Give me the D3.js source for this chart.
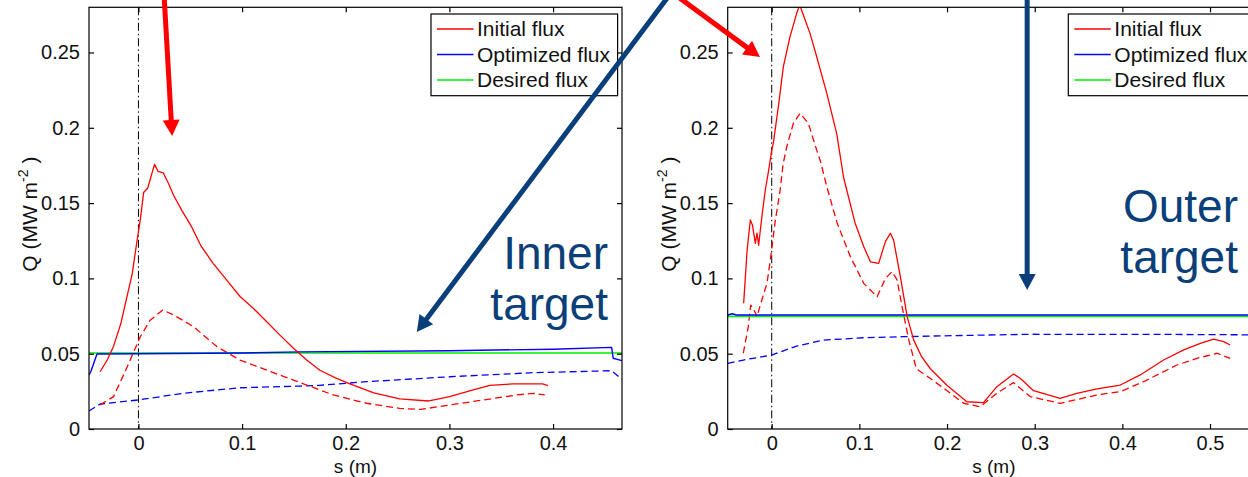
<!DOCTYPE html>
<html><head><meta charset="utf-8">
<script src="https://cdn.jsdelivr.net/npm/d3@7"></script>
<style>body{margin:0;background:#fff}svg{display:block}</style>
</head><body>
<script>
// ---------- data ----------
const yTicks = [0, 0.05, 0.1, 0.15, 0.2, 0.25];
const yTickLabels = ["0", "0.05", "0.1", "0.15", "0.2", "0.25"];
const leftXTicks = [0, 0.1, 0.2, 0.3, 0.4];
const rightXTicks = [0, 0.1, 0.2, 0.3, 0.4, 0.5];
const legendLabels = ["Initial flux", "Optimized flux", "Desired flux"];

const leftInitial = [[-0.037,0.038],[-0.030,0.046],[-0.024,0.055],[-0.017,0.070],[-0.011,0.088],[-0.006,0.103],[-0.002,0.122],[0.002,0.140],[0.005,0.157],[0.009,0.160],[0.0155,0.1757],[0.019,0.171],[0.024,0.170],[0.029,0.163],[0.034,0.155],[0.042,0.145],[0.0515,0.134],[0.060,0.122],[0.072,0.110],[0.085,0.099],[0.098,0.088],[0.111,0.080],[0.124,0.071],[0.137,0.062],[0.149,0.054],[0.162,0.046],[0.175,0.039],[0.190,0.034],[0.204,0.030],[0.227,0.024],[0.252,0.020],[0.280,0.0186],[0.290,0.020],[0.300,0.0215],[0.323,0.026],[0.339,0.029],[0.362,0.030],[0.381,0.030],[0.390,0.030],[0.395,0.0288]];
const leftInitialDashed = [[-0.037,0.016],[-0.024,0.0215],[-0.011,0.041],[0.0016,0.061],[0.011,0.072],[0.0235,0.079],[0.034,0.0757],[0.053,0.068],[0.0756,0.0547],[0.098,0.0458],[0.124,0.039],[0.1495,0.0325],[0.175,0.0259],[0.188,0.0226],[0.220,0.0171],[0.252,0.0137],[0.272,0.013],[0.3006,0.016],[0.333,0.0193],[0.365,0.0226],[0.381,0.0237],[0.392,0.0226]];
const leftOptimized = [[-0.0477,0.036],[-0.046,0.038],[-0.040,0.0498],[0.0,0.0500],[0.1,0.0505],[0.156,0.0512],[0.3,0.052],[0.4,0.053],[0.4565,0.0542],[0.458,0.047],[0.4665,0.0454]];
const leftOptimizedDashed = [[-0.0477,0.0120],[-0.037,0.0166],[0,0.0193],[0.043,0.0237],[0.098,0.0274],[0.156,0.0285],[0.175,0.029],[0.22,0.0314],[0.3006,0.0347],[0.381,0.0374],[0.4565,0.0387],[0.4665,0.033]];
const leftDesired = [[-0.0477,0.0505],[0.4665,0.0505]];

const rightInitial = [[-0.032,0.0835],[-0.028,0.119],[-0.0244,0.1388],[-0.022,0.1355],[-0.0187,0.1233],[-0.0168,0.130],[-0.0149,0.122],[-0.013,0.132],[-0.011,0.142],[-0.0073,0.1587],[-0.0034,0.172],[0,0.185],[0.0018,0.1897],[0.0076,0.214],[0.0133,0.2406],[0.0209,0.2605],[0.0285,0.276],[0.032,0.2815],[0.036,0.275],[0.0437,0.2627],[0.0514,0.247],[0.0628,0.223],[0.0742,0.196],[0.082,0.167],[0.095,0.137],[0.105,0.121],[0.1126,0.111],[0.122,0.110],[0.1297,0.1244],[0.1354,0.130],[0.139,0.1255],[0.1468,0.101],[0.1545,0.0746],[0.162,0.059],[0.171,0.048],[0.181,0.040],[0.1998,0.029],[0.2226,0.0181],[0.2416,0.0175],[0.2568,0.0281],[0.2758,0.0365],[0.2834,0.0337],[0.2987,0.0254],[0.329,0.0204],[0.348,0.0237],[0.371,0.0266],[0.3976,0.0292],[0.4204,0.0359],[0.447,0.0458],[0.47,0.0525],[0.489,0.0569],[0.504,0.0596],[0.5155,0.058],[0.523,0.0558]];
const rightInitialDashed = [[-0.0324,0.0503],[-0.0267,0.068],[-0.024,0.0823],[-0.020,0.079],[-0.0168,0.0746],[-0.013,0.0823],[-0.0054,0.0967],[-0.0016,0.112],[0.004,0.138],[0.0095,0.158],[0.013,0.176],[0.017,0.187],[0.0247,0.203],[0.0323,0.2096],[0.0418,0.203],[0.0514,0.185],[0.0555,0.178],[0.0628,0.161],[0.0745,0.137],[0.0897,0.1144],[0.105,0.0967],[0.1202,0.0878],[0.1297,0.100],[0.1373,0.1045],[0.143,0.099],[0.1487,0.0812],[0.1564,0.059],[0.165,0.040],[0.1807,0.0337],[0.1998,0.0255],[0.2188,0.0171],[0.2378,0.0148],[0.2568,0.0237],[0.2758,0.0308],[0.2949,0.0215],[0.329,0.017],[0.371,0.0226],[0.3976,0.0248],[0.4242,0.0314],[0.4623,0.0425],[0.485,0.0469],[0.508,0.0503],[0.523,0.0469]];
const rightOptimized = [[-0.0502,0.0757],[-0.045,0.0765],[-0.04,0.0757],[0.557,0.0757]];
const rightOptimizedDashed = [[-0.0502,0.0436],[-0.0324,0.0458],[0,0.0491],[0.0285,0.0551],[0.059,0.059],[0.1046,0.0606],[0.150,0.0613],[0.1807,0.0617],[0.2949,0.0629],[0.45,0.0628],[0.557,0.0625]];
const rightDesired = [[-0.0502,0.0748],[0.557,0.0748]];

// ---------- layout ----------
const W = 1248, H = 477;
const FONT = "'Liberation Sans', Arial, sans-serif";
const svg = d3.select("body").append("svg").attr("width", W).attr("height", H);
svg.append("rect").attr("width", W).attr("height", H).attr("fill", "#fff");

const panels = [
  { id: "L", left: 89, right: 622, top: 7.3, bottom: 429, xDomain: [-0.0477, 0.4665], xTicks: leftXTicks,
    series: { ini: leftInitial, iniD: leftInitialDashed, opt: leftOptimized, optD: leftOptimizedDashed, des: leftDesired },
    legendX: 431 },
  { id: "R", left: 727.7, right: 1260, top: 7.3, bottom: 429, xDomain: [-0.0502, 0.557], xTicks: rightXTicks,
    series: { ini: rightInitial, iniD: rightInitialDashed, opt: rightOptimized, optD: rightOptimizedDashed, des: rightDesired },
    legendX: 1068.3 }
];

const colors = { ini: "#ff0000", opt: "#0000ff", des: "#00ee00" };

panels.forEach(p => {
  const x = d3.scaleLinear().domain(p.xDomain).range([p.left, p.right]);
  const y = d3.scaleLinear().domain([0, 0.28]).range([p.bottom, p.top]);
  p.x = x; p.y = y;
  const g = svg.append("g");
  g.append("clipPath").attr("id", "clip" + p.id).append("rect")
    .attr("x", p.left).attr("y", p.top).attr("width", p.right - p.left).attr("height", p.bottom - p.top);
  const plot = g.append("g").attr("clip-path", `url(#clip${p.id})`);
  const line = d3.line().x(d => x(d[0])).y(d => y(d[1]));

  // dash-dot vertical line at s=0
  plot.append("line").attr("x1", x(0)).attr("x2", x(0)).attr("y1", p.top).attr("y2", p.bottom)
    .attr("stroke", "#000").attr("stroke-width", 1).attr("stroke-dasharray", "8,3,1.5,3");

  const draw = (data, col, dashed, w) => plot.append("path").datum(data).attr("d", line)
    .attr("fill", "none").attr("stroke", col).attr("stroke-width", w || 1.3)
    .attr("stroke-dasharray", dashed ? "7,4" : null).attr("stroke-linejoin", "round");
  draw(p.series.optD, colors.opt, true);
  draw(p.series.iniD, colors.ini, true);
  draw(p.series.des, colors.des, false, 1.6);
  draw(p.series.opt, colors.opt, false, 1.4);
  draw(p.series.ini, colors.ini, false);

  // axes (MATLAB style, ticks inward, box)
  const tk = 5;
  const ax = g.append("g").attr("font-family", FONT).attr("fill", "#111");
  ax.append("rect").attr("x", p.left).attr("y", p.top).attr("width", p.right - p.left).attr("height", p.bottom - p.top)
    .attr("fill", "none").attr("stroke", "#000").attr("stroke-width", 1.2);
  const xAxisB = d3.axisBottom(x).tickValues(p.xTicks).tickSize(-tk).tickPadding(7).tickFormat(d3.format("~g"));
  const gxb = ax.append("g").attr("transform", `translate(0,${p.bottom})`).call(xAxisB);
  const xAxisT = d3.axisTop(x).tickValues(p.xTicks).tickSize(-tk).tickFormat("");
  const gxt = ax.append("g").attr("transform", `translate(0,${p.top})`).call(xAxisT);
  const yAxisL = d3.axisLeft(y).tickValues(yTicks).tickSize(-tk).tickPadding(9).tickFormat((d, i) => yTickLabels[i]);
  const gyl = ax.append("g").attr("transform", `translate(${p.left},0)`).call(yAxisL);
  const yAxisR = d3.axisRight(y).tickValues(yTicks).tickSize(-tk).tickFormat("");
  const gyr = ax.append("g").attr("transform", `translate(${p.right},0)`).call(yAxisR);
  [gxb, gxt, gyl, gyr].forEach(a => {
    a.select(".domain").remove();
    a.selectAll(".tick line").attr("stroke", "#000").attr("stroke-width", 1.2);
    a.selectAll(".tick text").attr("font-size", 20).attr("font-family", FONT).attr("fill", "#111");
  });
  // axis labels
  ax.append("text").attr("x", (p.left + p.right) / 2).attr("y", 473)
    .attr("text-anchor", "middle").attr("font-size", 19).text("s (m)");
  const yl = ax.append("text").attr("transform", `translate(${p.left - 52},${(p.top + p.bottom) / 2 - 4}) rotate(-90)`)
    .attr("text-anchor", "middle").attr("font-size", 21);
  yl.append("tspan").text("Q (MW m");
  yl.append("tspan").attr("font-size", 14).attr("dy", -9).text("-2");
  yl.append("tspan").attr("dy", 9).text(" )");

  // legend
  const lg = svg.append("g").attr("font-family", FONT);
  lg.append("rect").attr("x", p.legendX).attr("y", 14).attr("width", 186.6).attr("height", 81.7)
    .attr("fill", "#fff").attr("stroke", "#000").attr("stroke-width", 1.2);
  ["ini", "opt", "des"].forEach((k, i) => {
    const yy = 29 + i * 25.5;
    lg.append("line").attr("x1", p.legendX + 6).attr("x2", p.legendX + 42.5).attr("y1", yy).attr("y2", yy)
      .attr("stroke", colors[k]).attr("stroke-width", 1.3);
    lg.append("text").attr("x", p.legendX + 46).attr("y", yy + 7).attr("font-size", 21).attr("fill", "#111")
      .text(legendLabels[i]);
  });
});

// ---------- annotations ----------
const navy = "#0a3f7a";
const L = panels[0], R = panels[1];
const arrows = [
  { p: L, from: [0.0248, 0.287], to: [0.0325, 0.1946], color: "#ff0000" },
  { p: R, from: [-0.107, 0.287], to: [-0.0134, 0.247], color: "#ff0000" },
  { p: L, from: [0.511, 0.287], to: [0.2685, 0.0644], color: navy },
  { p: R, from: [0.2914, 0.287], to: [0.2914, 0.0923], color: navy }
];
arrows.forEach(a => {
  const x1 = a.p.x(a.from[0]), y1 = a.p.y(a.from[1]), x2 = a.p.x(a.to[0]), y2 = a.p.y(a.to[1]);
  const ang = Math.atan2(y2 - y1, x2 - x1);
  const hl = 16, hw = 8.5;
  const bx = x2 - hl * Math.cos(ang), by = y2 - hl * Math.sin(ang);
  svg.append("line").attr("x1", x1).attr("y1", y1).attr("x2", bx + Math.cos(ang)).attr("y2", by + Math.sin(ang))
    .attr("stroke", a.color).attr("stroke-width", 5);
  const px = -Math.sin(ang), py = Math.cos(ang);
  svg.append("path").attr("d", `M${x2},${y2}L${bx + px * hw},${by + py * hw}L${bx - px * hw},${by - py * hw}Z`)
    .attr("fill", a.color);
});

const notes = [
  { lines: ["Inner", "target"], x: 608, y: 269 },
  { lines: ["Outer", "target"], x: 1238, y: 222 }
];
notes.forEach(n => {
  n.lines.forEach((t, i) => {
    svg.append("text").attr("x", n.x).attr("y", n.y + i * 51).attr("text-anchor", "end")
      .attr("font-family", FONT).attr("font-size", 46).attr("fill", navy).text(t);
  });
});
</script>
</body></html>
